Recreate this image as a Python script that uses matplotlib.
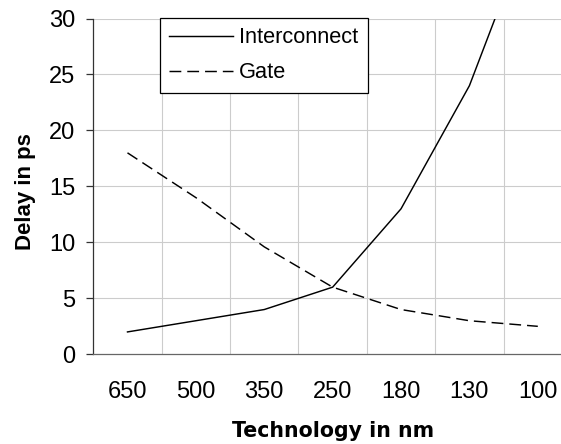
# Interconnect vs gate delay across process nodes.
# Categorical x axis (node names), Excel-style gridlines between categories.

import numpy as np
import matplotlib.pyplot as plt

plt.rcParams['font.family'] = ['Liberation Sans', 'DejaVu Sans']
plt.rcParams['lines.scale_dashes'] = False

nodes = ['650', '500', '350', '250', '180', '130', '100']
interconnect = [2, 3, 4, 6, 13, 24, 40]
gate = [18, 14, 9.6, 6, 4, 3, 2.5]
yticks = [0, 5, 10, 15, 20, 25, 30]

fig = plt.figure(figsize=(5.61, 4.44), dpi=100)
# plot area runs slightly past the right edge of the figure
ax = fig.add_axes([0.1663, 0.2020, 0.8533, 0.7563])

x = np.arange(len(nodes))
ax.plot(x, interconnect, color='black', lw=1.05, label='Interconnect')
ax.plot(x, gate, color='black', lw=1.05, linestyle=(0, (8.5, 4.3)), label='Gate')

ax.set_xlim(-0.5, len(nodes) - 0.5)
ax.set_ylim(0, 30)
ax.set_xticks(x)
ax.set_xticklabels(nodes)
ax.set_yticks(yticks)

# gridlines sit between the categories
for xb in np.arange(0.5, len(nodes) - 0.5, 1.0):
    ax.axvline(xb, color='#cccccc', lw=0.8, zorder=0)
for yv in yticks[1:]:
    ax.axhline(yv, color='#cccccc', lw=0.8, zorder=0)

for side in ['top', 'right']:
    ax.spines[side].set_visible(False)
ax.spines['left'].set_color('#333333')
ax.spines['bottom'].set_color('#666666')
ax.spines['left'].set_linewidth(0.9)
ax.spines['bottom'].set_linewidth(0.9)

ax.tick_params(axis='x', length=0, pad=19, labelsize=17)
ax.tick_params(axis='y', length=5, width=0.9, color='#333333', pad=8, labelsize=17)

ax.set_xlabel('Technology in nm', fontsize=14.8, fontweight='bold', family='DejaVu Sans')
ax.xaxis.set_label_coords(0.5, -0.1985)
ax.set_ylabel('Delay in ps', fontsize=16, fontweight='bold')
ax.yaxis.set_label_coords(-0.119, 0.485)

leg = ax.legend(loc='upper left', bbox_to_anchor=(160 / 561, 1 - 18.3 / 444),
                bbox_transform=fig.transFigure, borderaxespad=0, fontsize=15.7,
                handlelength=2.93, handletextpad=0.28, borderpad=0.42,
                labelspacing=0.64, fancybox=False, framealpha=1)
leg.get_frame().set_edgecolor('black')
leg.get_frame().set_linewidth(0.9)

fig.savefig('out.png', dpi=100)
